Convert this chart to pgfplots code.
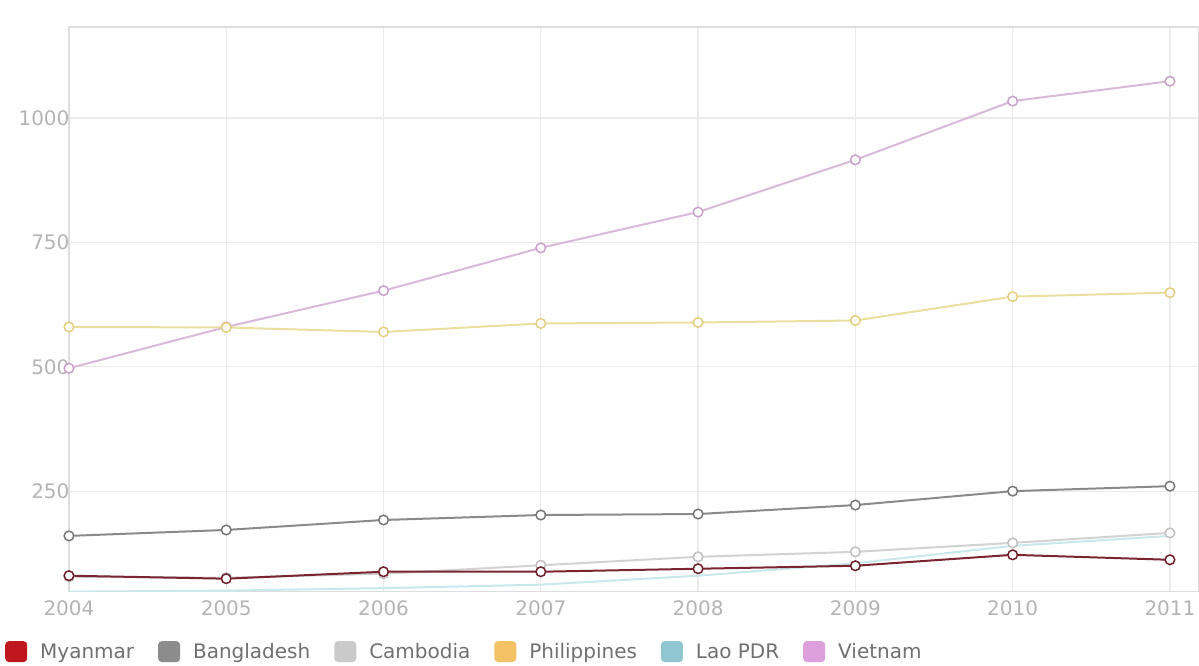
\documentclass[border=0pt]{standalone}
\usepackage{pgfplots}
\pgfplotsset{compat=1.18}
\usepackage{fontspec}
\setmainfont{DejaVu Sans}
\definecolor{myaL}{HTML}{7A2530}
\definecolor{myaM}{HTML}{6E1E2A}
\definecolor{myaG}{HTML}{C0171F}
\definecolor{banL}{HTML}{8A8A8A}
\definecolor{banM}{HTML}{777777}
\definecolor{banG}{HTML}{8C8C8C}
\definecolor{camL}{HTML}{D2D2D2}
\definecolor{camM}{HTML}{C0C0C0}
\definecolor{camG}{HTML}{CACACA}
\definecolor{phiL}{HTML}{EADF9E}
\definecolor{phiM}{HTML}{E2CF80}
\definecolor{phiG}{HTML}{F2C264}
\definecolor{laoL}{HTML}{C8E8EC}
\definecolor{laoM}{HTML}{B0DCE2}
\definecolor{laoG}{HTML}{8FC6D0}
\definecolor{vieL}{HTML}{D9B9D9}
\definecolor{vieM}{HTML}{C8A2C8}
\definecolor{vieG}{HTML}{DDA0DD}
\definecolor{gridc}{HTML}{EBEBEB}
\definecolor{boxc}{HTML}{DDDDDD}
\definecolor{tickc}{HTML}{B4B4B4}
\definecolor{legc}{HTML}{707070}
\begin{document}
\begin{tikzpicture}
\begin{axis}[
  name=ax,
  scale only axis,
  width=1130pt, height=565pt,
  xmin=2004, xmax=2011.18,
  ymin=48, ymax=1183,
  xtick={2004,2005,2006,2007,2008,2009,2010,2011},
  ytick={250,500,750,1000},
  /pgf/number format/1000 sep={},
  /pgf/number format/assume math mode=true,
  major tick length=0pt,
  grid=major,
  major grid style={color=gridc, line width=1.2pt},
  axis line style={color=boxc, line width=1.5pt},
  tick label style={font=\fontsize{20}{24}\selectfont, text=tickc},
  xticklabel style={yshift=-6pt},
  yticklabel style={xshift=4pt},
  reverse legend,
  legend columns=6,
  legend cell align=left,
  legend style={at={(-0.0566,-0.1062)}, anchor=west, draw=none, fill=none,
    font=\fontsize{20}{24}\selectfont, text=legc, inner sep=0pt,
    nodes={inner sep=0pt},
    /tikz/every odd column/.append style={column sep=13pt},
    /tikz/every even column/.append style={column sep=24pt}},
  every axis plot/.append style={line width=2pt, mark=*, mark size=4.8pt},
]
\addplot[color=vieL, mark options={fill=white, draw=vieM, line width=1.5pt},
  legend image code/.code={\fill[vieG, rounded corners=3pt] (0pt,-9pt) rectangle (20pt,10pt);}]
  coordinates {(2004,497) (2005,580) (2006,653) (2007,739) (2008,811) (2009,916) (2010,1034) (2011,1074)};
\addlegendentry{Vietnam}
\addplot[color=laoL, mark=none,
  legend image code/.code={\fill[laoG, rounded corners=3pt] (0pt,-9pt) rectangle (20pt,10pt);}]
  coordinates {(2004,48) (2005,50) (2006,55) (2007,62) (2008,80) (2009,105) (2010,140) (2011,160)};
\addlegendentry{Lao PDR}
\addplot[color=phiL, mark options={fill=white, draw=phiM, line width=1.5pt},
  legend image code/.code={\fill[phiG, rounded corners=3pt] (0pt,-9pt) rectangle (20pt,10pt);}]
  coordinates {(2004,580) (2005,579) (2006,570) (2007,587) (2008,589) (2009,593) (2010,641) (2011,649)};
\addlegendentry{Philippines}
\addplot[color=camL, mark options={fill=white, draw=camM, line width=1.5pt},
  legend image code/.code={\fill[camG, rounded corners=3pt] (0pt,-9pt) rectangle (20pt,10pt);}]
  coordinates {(2004,78) (2005,76) (2006,84) (2007,101) (2008,118) (2009,128) (2010,146) (2011,166)};
\addlegendentry{Cambodia}
\addplot[color=banL, mark options={fill=white, draw=banM, line width=1.5pt},
  legend image code/.code={\fill[banG, rounded corners=3pt] (0pt,-9pt) rectangle (20pt,10pt);}]
  coordinates {(2004,160) (2005,172) (2006,192) (2007,202) (2008,204) (2009,222) (2010,250) (2011,260)};
\addlegendentry{Bangladesh}
\addplot[color=myaL, mark options={fill=white, draw=myaM, line width=1.5pt},
  legend image code/.code={\fill[myaG, rounded corners=3pt] (0pt,-9pt) rectangle (20pt,10pt);}]
  coordinates {(2004,80) (2005,74) (2006,88) (2007,88) (2008,94) (2009,100) (2010,122) (2011,112)};
\addlegendentry{Myanmar}
\end{axis}
\path (ax.south west) ++(-69pt,-74pt) coordinate (bbl);
\path (ax.north east) ++(0pt,27pt) coordinate (btr);
\end{tikzpicture}
\end{document}
